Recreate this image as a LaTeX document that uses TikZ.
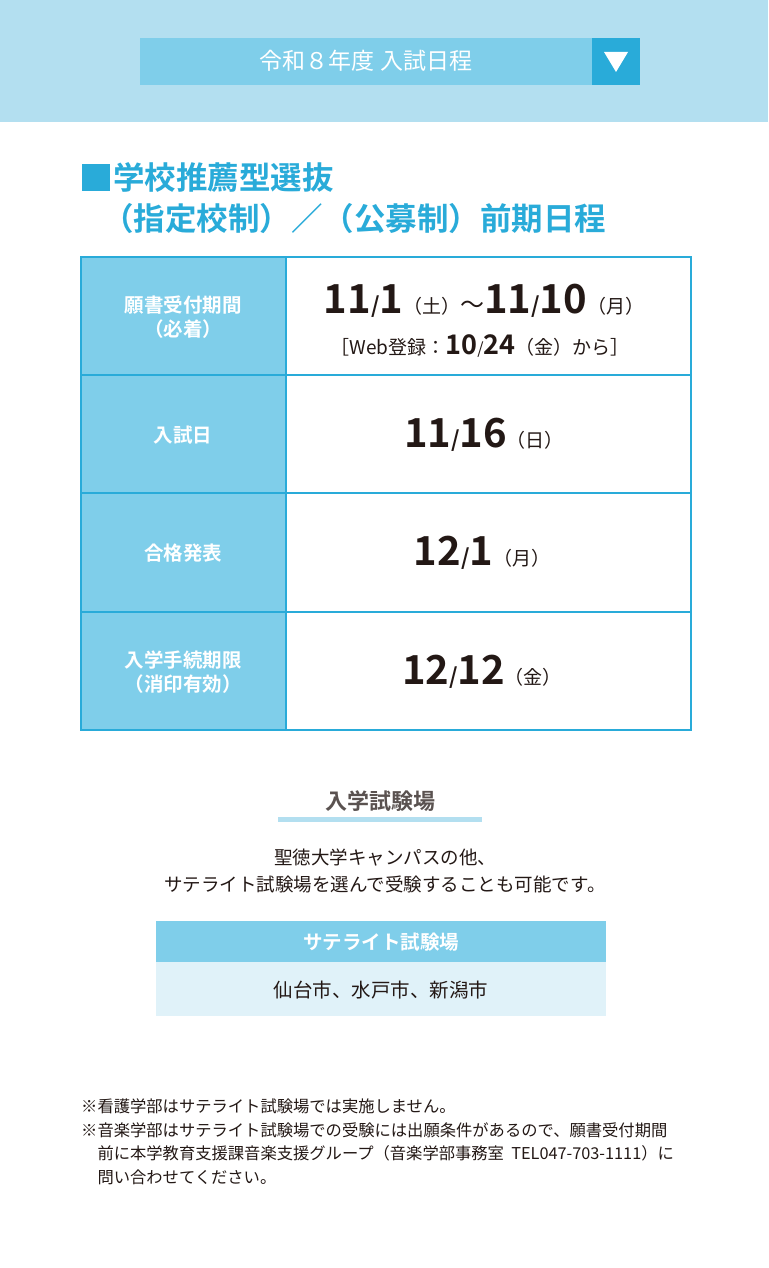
\documentclass[tikz,border=0pt]{standalone}
\usepackage{fontspec}
\setmainfont{Noto Sans CJK JP}[BoldFont={Noto Sans CJK JP Bold}]
\definecolor{band}{HTML}{B3DFF0}
\definecolor{mid}{HTML}{7FCEEA}
\definecolor{deep}{HTML}{29ABD9}
\definecolor{pale}{HTML}{E0F2F9}
\definecolor{txt}{HTML}{231815}
\begin{document}
\begin{tikzpicture}[x=1pt,y=-1pt,
  lab/.style={font=\bfseries\fontsize{19.5}{24}\selectfont,text=white,align=center},
  big/.style={font=\bfseries\fontsize{40}{44}\selectfont,text=txt,inner sep=0},
  par/.style={font=\fontsize{18.5}{20}\selectfont,text=txt,inner sep=0},
  cell/.style={draw=deep,line width=1.2pt}]
\useasboundingbox (0,0) rectangle (768,1268);
\fill[white] (0,0) rectangle (768,1268);
\fill[band] (0,0) rectangle (768,122);
\fill[mid] (140,38) rectangle (640,85);
\node[text=white,font=\fontsize{23}{26}\selectfont] (hd) at (366,61) {令和８年度\ 入試日程};
\fill[deep] (592,38) rectangle (640,85);
\fill[white] (604,52) -- (628,52) -- (616,72) -- cycle;
% title
\fill[deep] (82,164) rectangle (110,191);
\node[anchor=west,text=deep,font=\bfseries\fontsize{31.5}{36}\selectfont,inner sep=0] (t1) at (113,177) {学校推薦型選抜};
\node[anchor=west,text=deep,font=\bfseries\fontsize{31.5}{36}\selectfont,inner sep=0] (t2) at (102,219) {（指定校制）／（公募制）前期日程};
% table
\foreach \a/\b in {257/375,375/493,493/612,612/730}{
  \fill[mid] (81,\a) rectangle (286,\b);
  \draw[cell] (81,\a) rectangle (286,\b);
  \draw[cell] (286,\a) rectangle (691,\b);
}
\node[lab] (l1) at (183,317) {願書受付期間\\（必着）};
\node[lab] (l2) at (183,435) {入試日};
\node[lab] (l3) at (183,553) {合格発表};
\node[lab] (l4) at (183,672) {入学手続期限\\（消印有効）};
\node[big] (d1) at (484,301) {11{\fontsize{22}{22}\selectfont/}1{\fontsize{19}{20}\mdseries\selectfont（土）}{\fontsize{24}{22}\mdseries\selectfont～}11{\fontsize{22}{22}\selectfont/}10{\fontsize{19}{20}\mdseries\selectfont（月）}};
\node[par,font=\fontsize{19}{20}\selectfont] (w1) at (480,346) {［Web登録：{\bfseries\fontsize{27}{24}\selectfont 10}{\fontsize{16}{14}\selectfont/}{\bfseries\fontsize{27}{24}\selectfont 24}（金）から］};
\node[big] (d2) at (484,435) {11{\fontsize{22}{22}\selectfont/}16{\fontsize{19}{20}\mdseries\selectfont（日）}};
\node[big] (d3) at (482,553) {12{\fontsize{22}{22}\selectfont/}1{\fontsize{19}{20}\mdseries\selectfont（月）}};
\node[big] (d4) at (482,672) {12{\fontsize{22}{22}\selectfont/}12{\fontsize{19}{20}\mdseries\selectfont（金）}};
% exam site
\node[text=txt!75,font=\bfseries\fontsize{22}{24}\selectfont] (es) at (380,801) {入学試験場};
\fill[band] (278,817) rectangle (482,822);
\node[par,align=center,font=\fontsize{18.5}{27}\selectfont] (ex) at (385,871) {聖徳大学キャンパスの他、\\サテライト試験場を選んで受験することも可能です。};
\fill[mid] (156,921) rectangle (606,962);
\fill[pale] (156,962) rectangle (606,1016);
\node[lab] (sh) at (381,942) {サテライト試験場};
\node[par,font=\fontsize{19.5}{20}\selectfont] (sb) at (381,990) {仙台市、水戸市、新潟市};
% notes
\node[anchor=north west,align=left,text=txt,font=\fontsize{16.3}{23.5}\selectfont,inner sep=0] (nt) at (81,1099)
 {※看護学部はサテライト試験場では実施しません。\\
  ※音楽学部はサテライト試験場での受験には出願条件があるので、願書受付期間\\
  \hspace*{1em}前に本学教育支援課音楽支援グループ（音楽学部事務室\ \ TEL047-703-1111）に\\
  \hspace*{1em}問い合わせてください。};
\end{tikzpicture}
\end{document}
